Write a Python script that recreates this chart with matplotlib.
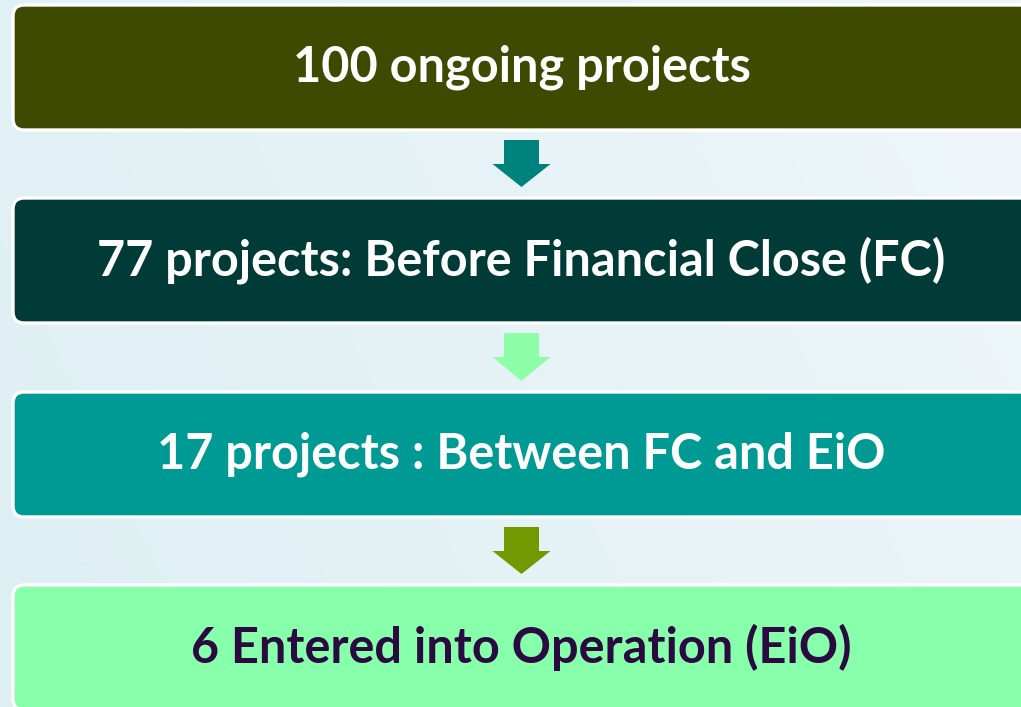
import numpy as np
import matplotlib.pyplot as plt
from matplotlib.patches import FancyBboxPatch, Polygon

labels = ['100 ongoing projects',
          '77 projects: Before Financial Close (FC)',
          '17 projects : Between FC and EiO',
          '6 Entered into Operation (EiO)']
box_colors = ['#3d4a00', '#003b38', '#009a94', '#88ffaa']
text_colors = ['white', 'white', 'white', '#2a0a40']
arrow_colors = ['#00827c', '#8effa6', '#739900']

W, H = 1021, 707
fig = plt.figure(figsize=(W / 100, H / 100), dpi=100)
ax = fig.add_axes([0, 0, 1, 1])
ax.set_xlim(0, W)
ax.set_ylim(H, 0)
ax.axis('off')

# light background gradient
gx = np.linspace(0, 1, 200)
gy = np.linspace(0, 1, 200)
GX, GY = np.meshgrid(gx, gy)
g = 0.75 * GX + 0.25 * (1 - GY)
c0 = np.array([0xdd, 0xef, 0xf3]) / 255
c1 = np.array([0xef, 0xf6, 0xf9]) / 255
img = c0[None, None, :] * (1 - g[..., None]) + c1[None, None, :] * g[..., None]
ax.imshow(img, extent=[0, W, H, 0], aspect='auto', zorder=0)

box_top = [5, 198, 392, 585]
box_h = 125
x0, x1 = 13, 1032
for i, lab in enumerate(labels):
    y = box_top[i]
    p = FancyBboxPatch((x0, y), x1 - x0, box_h,
                       boxstyle='round,pad=0,rounding_size=11',
                       fc=box_colors[i], ec='white', lw=2.4, zorder=2)
    ax.add_patch(p)
    ax.text((x0 + x1) / 2 - 1, y + box_h / 2, lab, ha='center', va='center',
            fontsize=35, fontweight='bold', family='Lato',
            color=text_colors[i], zorder=3)

# arrows between boxes
cx = 521.5
for i, col in enumerate(arrow_colors):
    top = box_top[i] + box_h + 10
    tip = box_top[i + 1] - 11
    neck = top + 24
    pts = [(cx - 17.5, top), (cx + 17.5, top), (cx + 17.5, neck),
           (cx + 29, neck), (cx, tip), (cx - 29, neck), (cx - 17.5, neck)]
    ax.add_patch(Polygon(pts, closed=True, fc=col, ec='none', zorder=2))

fig.savefig('out.png', dpi=100)
